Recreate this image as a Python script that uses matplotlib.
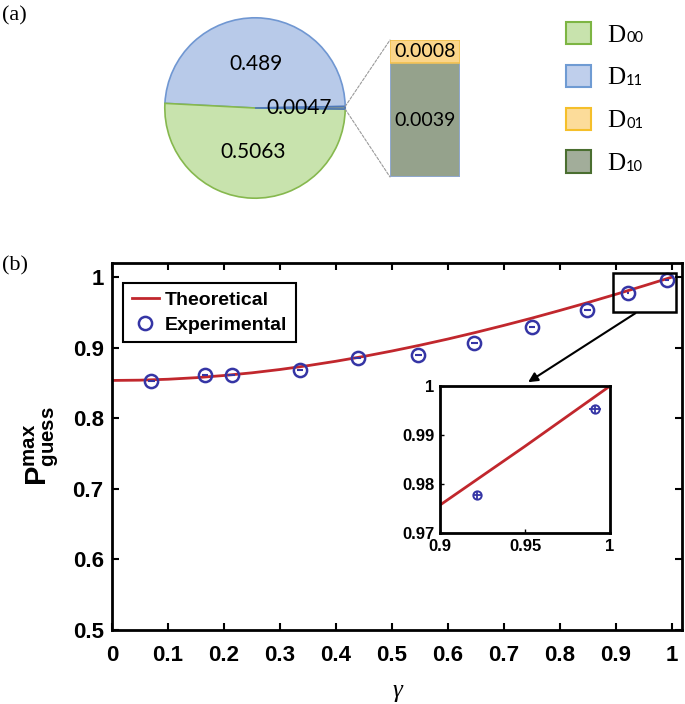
"""Figura: (a) tarta de probabilidades D_ij y (b) P_guess^max frente a gamma."""
import matplotlib
matplotlib.use("Agg")
import matplotlib.pyplot as plt
import numpy as np
from matplotlib.patches import Patch, Rectangle, ConnectionPatch
from matplotlib.text import Annotation

plt.rcParams["font.family"] = ["Liberation Sans", "DejaVu Sans"]
plt.rcParams["mathtext.fontset"] = "custom"
plt.rcParams["mathtext.bf"] = "Liberation Sans:bold"
plt.rcParams["mathtext.rm"] = "Liberation Sans"

# ---------------- datos (a) ----------------
pie_values = [0.489, 0.5063, 0.0047]          # D11, D00, D01+D10
pie_labels = ["0.489", "0.5063", "0.0047"]
bar_values = [0.0039, 0.0008]                 # D10, D01
bar_labels = ["0.0039", "0.0008"]
legend_digits = ["00", "11", "01", "10"]

# ---------------- datos (b) ----------------
gamma_theo = [0.0, 0.05, 0.1, 0.15, 0.2, 0.25, 0.3, 0.35, 0.4, 0.45, 0.5,
              0.55, 0.6, 0.65, 0.7, 0.75, 0.8, 0.85, 0.9, 0.95, 1.0]
p_theo = [0.8536, 0.8540, 0.8553, 0.8575, 0.8606, 0.8644, 0.8691, 0.8746,
          0.8808, 0.8877, 0.8953, 0.9035, 0.9123, 0.9217, 0.9316, 0.9419,
          0.9528, 0.9640, 0.9757, 0.9877, 1.0]
gamma_exp = [0.070, 0.166, 0.214, 0.336, 0.439, 0.547, 0.647, 0.750, 0.849,
             0.922, 0.991]
p_exp = [0.853, 0.861, 0.862, 0.869, 0.885, 0.889, 0.907, 0.930, 0.954,
         0.9777, 0.9953]
gamma_err = [0.006, 0.006, 0.006, 0.006, 0.006, 0.006, 0.006, 0.006, 0.006,
             0.002, 0.0035]
p_err = [0.0008] * 11

zoom_box = (0.895, 1.007, 0.951, 1.006)   # x0, x1, y0, y1 del recuadro

RED = "#c1272d"
BLUE = "#3535a5"

fig = plt.figure(figsize=(6.85, 7.04), dpi=100)

# ================= (a) =================
ax_pie = fig.add_axes([163 / 685, 1 - 200 / 704, 184 / 685, 184 / 704])
wedges, _, autotexts = ax_pie.pie(
    pie_values, startangle=1, counterclock=True, autopct="%1.1f",
    pctdistance=0.49,
    colors=["#b8cae9", "#c8e3ad", "#8e9c86"],
    wedgeprops=dict(linewidth=1.2),
)
for w, ec in zip(wedges, ["#7097d2", "#86b84e", "#4f78b8"]):
    w.set_edgecolor(ec)
for t, lab in zip(autotexts, pie_labels):
    t.set_text(lab)
    t.set_fontfamily("Lato")
    t.set_fontsize(15)
ax_pie.set_xlim(-1.02, 1.02)
ax_pie.set_ylim(-1.02, 1.02)
ax_pie.set_aspect("equal")
ax_pie.axis("off")

ax_bar = fig.add_axes([390 / 685, 1 - 177 / 704, 70 / 685, 137 / 704])
ax_bar.bar([0], [bar_values[0]], width=1, color="#95a28c",
           edgecolor="#8faadc", linewidth=1.2)
ax_bar.bar([0], [bar_values[1]], bottom=bar_values[0], width=1,
           color="#fbd58a", edgecolor="#f2c14e", linewidth=1.2)
ax_bar.set_xlim(-0.5, 0.5)
ax_bar.set_ylim(0, sum(bar_values))
ax_bar.axis("off")
ax_bar.text(0, bar_values[0] / 2, bar_labels[0], ha="center", va="center",
            fontsize=14, family="Lato")
ax_bar.text(0, bar_values[0] + bar_values[1] / 2, bar_labels[1],
            ha="center", va="center", fontsize=14, family="Lato")

# líneas discontinuas entre la cuña pequeña y la barra
w = wedges[2]
for ang, yb in [(w.theta2, sum(bar_values)), (w.theta1, 0)]:
    p = (np.cos(np.radians(ang)), np.sin(np.radians(ang)))
    con = ConnectionPatch(xyA=p, coordsA=ax_pie.transData,
                          xyB=(-0.5, yb), coordsB=ax_bar.transData,
                          color="#9a9a9a", lw=0.8, linestyle=(0, (2.5, 1.5)))
    fig.add_artist(con)

handles = [Patch(facecolor="#c8e3ad", edgecolor="#7db543", lw=1.5),
           Patch(facecolor="#bfcfec", edgecolor="#6f9bd3", lw=1.5),
           Patch(facecolor="#fcdc9a", edgecolor="#f5bf2a", lw=1.5),
           Patch(facecolor="#a2ad9a", edgecolor="#4a6e30", lw=1.5)]
leg_a = fig.legend(handles, ["D"] * 4, loc="upper left",
                   bbox_to_anchor=(566 / 685, 1 - 22 / 704), frameon=False,
                   borderpad=0, borderaxespad=0, handlelength=1.0,
                   handleheight=1.0, handletextpad=0.65, labelspacing=0.72,
                   prop={"family": "Liberation Serif", "size": 18})
for txt, dig in zip(leg_a.get_texts(), legend_digits):
    ann = Annotation(dig, xy=(1, 0.2), xycoords=txt, xytext=(0.5, 0),
                     textcoords="offset points", ha="left", va="baseline",
                     fontsize=10.5, family="Lato", zorder=6)
    fig.add_artist(ann)

fig.text(2 / 685, 1 - 16 / 704, "(a)", family="Liberation Serif",
         fontsize=16, va="center")
fig.text(2 / 685, 1 - 266 / 704, "(b)", family="Liberation Serif",
         fontsize=16, va="center")

# ================= (b) =================
ax = fig.add_axes([112 / 685, 1 - 630 / 704, 570 / 685, 367 / 704])
ax.plot(gamma_theo, p_theo, color=RED, lw=2, label="Theoretical")
ax.errorbar(gamma_exp, p_exp, xerr=gamma_err, yerr=p_err, fmt="none",
            ecolor=BLUE, elinewidth=1.5, capsize=0)
ax.plot(gamma_exp, p_exp, "o", mfc="none", mec=BLUE, ms=9.5, mew=1.8,
        label="Experimental")
ax.set_xlim(0, 1.018)
ax.set_ylim(0.5, 1.02)
ax.set_xticks([i / 10 for i in range(11)])
ax.set_xticklabels(["0", "0.1", "0.2", "0.3", "0.4", "0.5", "0.6", "0.7",
                    "0.8", "0.9", "1"])
ax.set_yticks([0.5, 0.6, 0.7, 0.8, 0.9, 1.0])
ax.set_yticklabels(["0.5", "0.6", "0.7", "0.8", "0.9", "1"])
ax.tick_params(direction="in", length=5, width=1.5, top=True, right=True,
               labelsize=16)
ax.tick_params(axis="x", pad=11)
ax.tick_params(axis="y", pad=6)
for lab in ax.get_xticklabels() + ax.get_yticklabels():
    lab.set_fontweight("bold")
for s in ax.spines.values():
    s.set_linewidth(2)
ax.set_xlabel("γ", family="Liberation Serif", style="italic", fontsize=18,
              labelpad=10)
ax.set_ylabel(r"$\mathbf{P}^{\mathbf{max}}_{\mathbf{guess}}$", fontsize=21,
              labelpad=8)

leg = ax.legend(loc="upper left", bbox_to_anchor=(0.019, 0.946),
                borderaxespad=0, fancybox=False, edgecolor="black",
                handlelength=1.4, handletextpad=0.3, borderpad=0.45,
                labelspacing=0.35, prop={"weight": "bold", "size": 14})
leg.get_frame().set_linewidth(1.5)
leg.get_frame().set_alpha(1)

x0, x1, y0, y1 = zoom_box
ax.add_patch(Rectangle((x0, y0), x1 - x0, y1 - y0, fill=False, lw=1.8,
                       ec="black", clip_on=False, zorder=4))
ax.annotate("", xy=(0.739, 0.849), xytext=(0.939, y0),
            arrowprops=dict(arrowstyle="-|>", color="black", lw=1.5,
                            mutation_scale=14))

# inset
axi = fig.add_axes([440 / 685, 1 - 533 / 704, 170 / 685, 147 / 704])
axi.plot(gamma_theo, p_theo, color=RED, lw=2)
axi.errorbar(gamma_exp, p_exp, xerr=gamma_err, yerr=p_err, fmt="o",
             mfc="none", mec=BLUE, ms=6, mew=1.4, ecolor=BLUE,
             elinewidth=1.3, capsize=0)
axi.set_xlim(0.9, 1.0)
axi.set_ylim(0.97, 1.0)
axi.set_xticks([0.9, 0.95, 1.0])
axi.set_xticklabels(["0.9", "0.95", "1"])
axi.set_yticks([0.97, 0.98, 0.99, 1.0])
axi.set_yticklabels(["0.97", "0.98", "0.99", "1"])
axi.tick_params(direction="in", length=3, width=1, labelsize=12, pad=4)
for lab in axi.get_xticklabels() + axi.get_yticklabels():
    lab.set_fontweight("bold")
for s in axi.spines.values():
    s.set_linewidth(2)

fig.savefig("out.png", dpi=100)
